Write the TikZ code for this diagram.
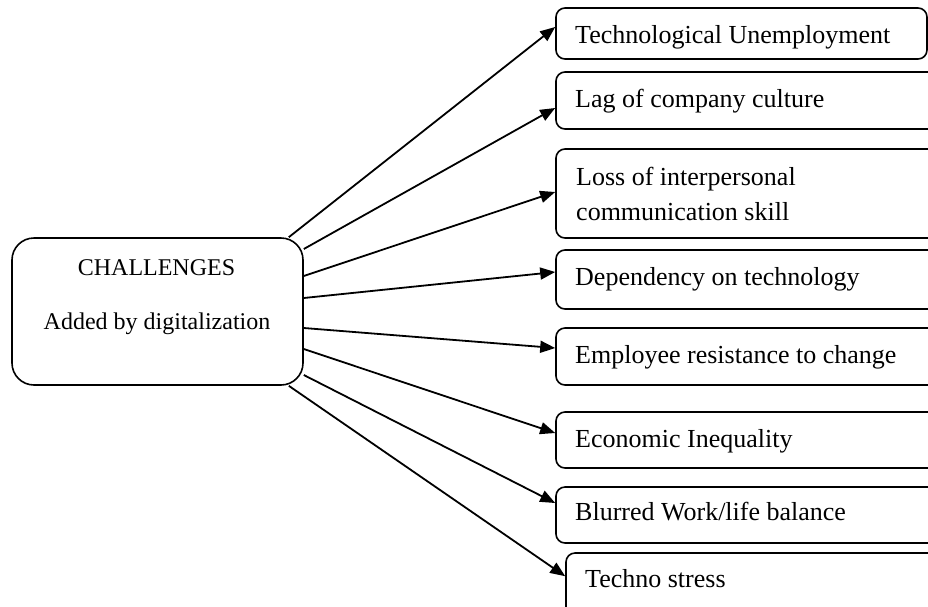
\documentclass[tikz,border=0pt]{standalone}
\usepackage{fontspec}
\setmainfont{Liberation Serif}
\usetikzlibrary{arrows.meta}
\begin{document}
\begin{tikzpicture}[x=1pt,y=-1pt,
  hub/.style={draw, line width=1.6pt, rounded corners=22pt, inner sep=0pt,
    minimum width=291pt, minimum height=147pt},
  item/.style={draw, line width=1.6pt, rounded corners=9pt, inner sep=0pt},
  hubtext/.style={anchor=base, inner sep=0pt, font=\fontsize{24}{29}\selectfont},
  itemtext/.style={anchor=base west, inner sep=0pt, font=\fontsize{26}{31}\selectfont},
  link/.style={line width=1.8pt, -{Triangle[length=15pt,width=12pt]}}]
\useasboundingbox (0,0) rectangle (928,606);
\clip (0,0) rectangle (928,606);

% central box
\node[hub] (main) at (157.5,311.5) {};
\node[hubtext] (hubtitle) at (156.5,275) {CHALLENGES};
\node[hubtext] (hubsub) at (157,329) {Added by digitalization};

% boxes on the right (all but the first run past the right margin)
\node[item, minimum width=371pt, minimum height=51pt] (b1) at (741.5,33.5) {};
\node[item, minimum width=400pt, minimum height=57pt] (b2) at (756,100.5) {};
\node[item, minimum width=400pt, minimum height=89pt] (b3) at (756,193.5) {};
\node[item, minimum width=400pt, minimum height=59pt] (b4) at (756,279.5) {};
\node[item, minimum width=400pt, minimum height=57pt] (b5) at (756,356.5) {};
\node[item, minimum width=400pt, minimum height=56pt] (b6) at (756,440) {};
\node[item, minimum width=400pt, minimum height=56pt] (b7) at (756,515) {};
\node[item, minimum width=400pt, minimum height=90pt] (b8) at (766,598) {};

% labels
\node[itemtext] (t1) at (575,43) {Technological Unemployment};
\node[itemtext] (t2) at (575,107) {Lag of company culture};
\node[itemtext] (t3a) at (576,185) {Loss of interpersonal};
\node[itemtext] (t3b) at (576,220) {communication skill};
\node[itemtext] (t4) at (575,285) {Dependency on technology};
\node[itemtext] (t5) at (575,363) {Employee resistance to change};
\node[itemtext] (t6) at (575,447) {Economic Inequality};
\node[itemtext] (t7) at (575,520) {Blurred Work/life balance};
\node[itemtext] (t8) at (585,587) {Techno stress};

% connectors
\draw[link] ([xshift=-15pt]main.north east) -- ([yshift=6.5pt]b1.west);
\draw[link] ([yshift=62.5pt]main.east) -- ([yshift=-7.5pt]b2.west);
\draw[link] ([yshift=35.5pt]main.east) -- ([yshift=1.5pt]b3.west);
\draw[link] ([yshift=13.5pt]main.east) -- ([yshift=7.5pt]b4.west);
\draw[link] ([yshift=-16.5pt]main.east) -- ([yshift=8.5pt]b5.west);
\draw[link] ([yshift=-37.5pt]main.east) -- ([yshift=7pt]b6.west);
\draw[link] ([yshift=-63.5pt]main.east) -- ([yshift=12pt]b7.west);
\draw[link] ([xshift=-15pt]main.south east) -- ([yshift=-24pt]b8.north west);
\end{tikzpicture}
\end{document}
